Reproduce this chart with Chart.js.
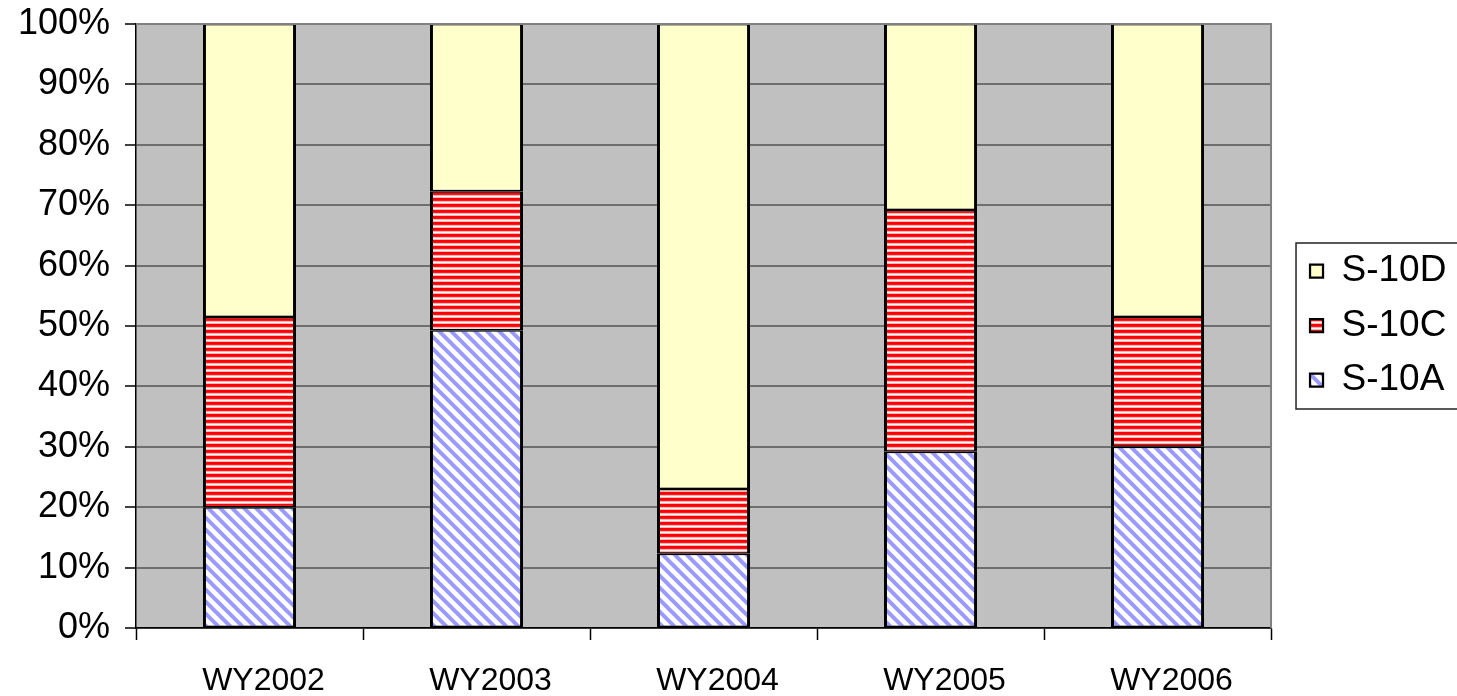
<!DOCTYPE html>
<html>
<head>
<meta charset="utf-8">
<script src="https://cdn.jsdelivr.net/npm/chart.js@4"></script>
<style>
  html, body { margin: 0; padding: 0; background: #ffffff; }
  #wrap { width: 1457px; height: 696px; position: relative; }
</style>
</head>
<body>
<div id="wrap"><canvas id="chart" width="1457" height="696"></canvas></div>
<script>
// Share of flow by structure, per water year (percent of total)
const categories = ['WY2002', 'WY2003', 'WY2004', 'WY2005', 'WY2006'];
const s10A = [20.0, 49.3, 12.3, 29.2, 30.0];
const s10C = [31.5, 23.0, 10.7, 40.0, 21.5];
const s10D = [48.5, 27.7, 77.0, 30.8, 48.5];
const seriesNames = ['S-10A', 'S-10C', 'S-10D'];

// Fill patterns
function diagonalPattern() {
  const c = document.createElement('canvas');
  c.width = 12; c.height = 12;
  const g = c.getContext('2d');
  g.fillStyle = '#ffffff';
  g.fillRect(0, 0, 12, 12);
  g.strokeStyle = '#9999ff';
  g.lineWidth = 4;
  for (let k = -1; k <= 1; k++) {
    g.beginPath();
    g.moveTo(k * 12 - 3, -3);
    g.lineTo(k * 12 + 15, 15);
    g.stroke();
  }
  return g.createPattern(c, 'repeat');
}
function horizontalPattern() {
  const c = document.createElement('canvas');
  c.width = 6; c.height = 6;
  const g = c.getContext('2d');
  const rows = ['#ff0000', '#ff0000', '#ff1a1a', '#ffb3b3', '#ffffff', '#ffb3b3'];
  rows.forEach((col, i) => { g.fillStyle = col; g.fillRect(0, i, 6, 1); });
  return g.createPattern(c, 'repeat');
}

const plotBackground = {
  id: 'plotBackground',
  beforeDraw(chart) {
    const {ctx, chartArea: a} = chart;
    ctx.save();
    ctx.fillStyle = '#c0c0c0';
    ctx.fillRect(a.left, a.top, a.right - a.left, a.bottom - a.top);
    ctx.restore();
  },
  afterDatasetsDraw(chart) {
    const {ctx, chartArea: a} = chart;
    ctx.save();
    ctx.strokeStyle = '#808080';
    ctx.lineWidth = 2;
    ctx.beginPath();
    ctx.moveTo(a.left, a.top);
    ctx.lineTo(a.right, a.top);
    ctx.lineTo(a.right, a.bottom);
    ctx.stroke();
    ctx.restore();
  }
};

// Place the legend beside the plot and frame it
const LEGEND_PAD = 17.5;
const LEGEND_FONT = 37;
const legendFrame = {
  id: 'legendFrame',
  afterLayout(chart) {
    const lg = chart.legend;
    const a = chart.chartArea;
    const w = lg.width;
    lg.left = a.right + 39 - LEGEND_PAD;
    lg.right = lg.left + w;
    lg.top = a.top + 247 - LEGEND_PAD - LEGEND_FONT / 2;
    lg.bottom = chart.height;
  },
  afterDraw(chart) {
    const {ctx, chartArea: a} = chart;
    const lg = chart.legend;
    const firstMid = lg.top + LEGEND_PAD + LEGEND_FONT / 2;
    ctx.save();
    ctx.strokeStyle = '#222222';
    ctx.lineWidth = 1.5;
    const top = firstMid - 28;
    const bottom = firstMid + 109 + 29;
    ctx.strokeRect(a.right + 25, top, 200, bottom - top);
    ctx.restore();
  }
};

const fontFamily = "'Liberation Sans', Arial, sans-serif";

new Chart(document.getElementById('chart'), {
  type: 'bar',
  data: {
    labels: categories,
    datasets: [
      { label: seriesNames[0], data: s10A, backgroundColor: diagonalPattern() },
      { label: seriesNames[1], data: s10C, backgroundColor: horizontalPattern() },
      { label: seriesNames[2], data: s10D, backgroundColor: '#ffffcc' }
    ].map(d => Object.assign(d, {
      borderColor: '#000000',
      borderWidth: { left: 3, right: 3, top: 1.5, bottom: 1.5 },
      borderSkipped: false,
      categoryPercentage: 1.0,
      barPercentage: 0.41
    }))
  },
  options: {
    responsive: false,
    animation: false,
    devicePixelRatio: 1,
    layout: { padding: { left: 0, right: 22.1, top: 24, bottom: 0 } },
    plugins: {
      legend: {
        position: 'right',
        align: 'start',
        reverse: true,
        labels: {
          boxWidth: 13,
          boxHeight: 13,
          padding: LEGEND_PAD,
          color: '#000000',
          font: { family: fontFamily, size: LEGEND_FONT }
        }
      },
      tooltip: { enabled: false }
    },
    scales: {
      x: {
        stacked: true,
        afterFit(scale) { scale.height = 68; },
        grid: {
          offset: true,
          drawOnChartArea: false,
          tickLength: 12,
          tickColor: '#000000',
          tickWidth: 1.5
        },
        border: { color: '#000000', width: 1.5 },
        ticks: {
          padding: 22,
          labelOffset: 14,
          color: '#000000',
          maxRotation: 0,
          font: { family: fontFamily, size: 32 }
        }
      },
      y: {
        stacked: true,
        min: 0,
        max: 100,
        afterFit(scale) {
          scale.width = 136;
          scale.paddingTop = 0;
          scale.paddingBottom = 0;
        },
        grid: {
          color: '#6e6e6e',
          lineWidth: 2,
          tickLength: 11,
          tickColor: '#000000',
          tickWidth: 1.5
        },
        border: { color: '#000000', width: 1.5 },
        ticks: {
          stepSize: 10,
          padding: 15,
          color: '#000000',
          font: { family: fontFamily, size: 36 },
          callback: v => v + '%'
        }
      }
    }
  },
  plugins: [plotBackground, legendFrame]
});
</script>
</body>
</html>
